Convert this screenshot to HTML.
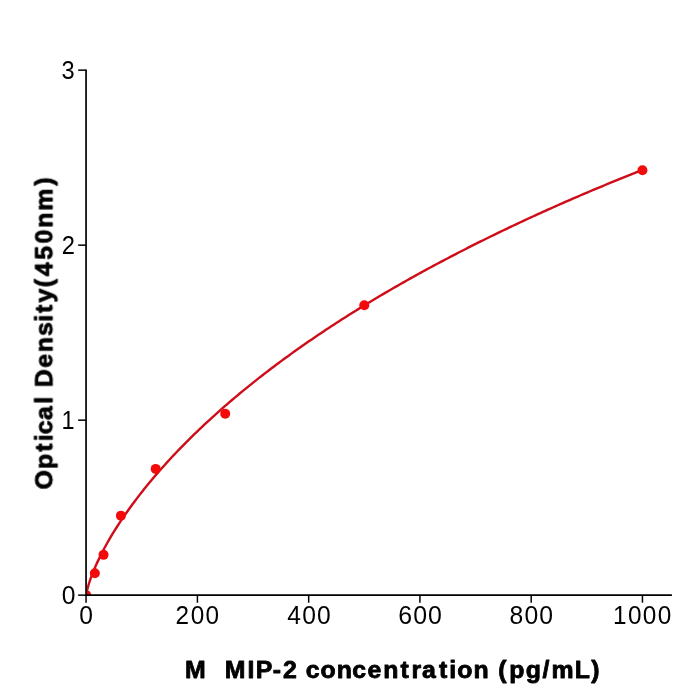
<!DOCTYPE html>
<html><head><meta charset="utf-8"><title>M MIP-2 standard curve</title>
<style>
html,body{margin:0;padding:0;background:#fff;}
body{width:700px;height:700px;overflow:hidden;font-family:"Liberation Sans",sans-serif;}
svg{display:block;}
</style></head><body>
<svg width="700" height="700" viewBox="0 0 700 700">
<rect width="700" height="700" fill="#ffffff"/>
<defs><clipPath id="ax"><rect x="86.05" y="70.15" width="585.85" height="525.00"/></clipPath></defs>
<circle cx="86.15" cy="595.15" r="5.00" fill="#f30b0b" clip-path="url(#ax)"/>
<path d="M86.15 596.08 L86.53 593.15 L86.92 591.21 L87.30 589.54 L87.68 588.02 L88.07 586.60 L88.45 585.26 L88.84 583.98 L89.22 582.75 L89.60 581.56 L89.99 580.41 L90.37 579.29 L90.75 578.20 L91.14 577.14 L91.52 576.10 L91.90 575.08 L92.29 574.08 L92.67 573.10 L93.06 572.13 L93.44 571.18 L93.82 570.25 L94.21 569.33 L94.59 568.42 L94.97 567.52 L95.36 566.64 L95.74 565.76 L96.13 564.90 L96.51 564.05 L96.89 563.20 L97.28 562.37 L99.77 557.15 L102.25 552.21 L104.74 547.51 L107.23 543.01 L109.72 538.67 L112.21 534.48 L114.70 530.43 L117.19 526.49 L119.68 522.65 L122.17 518.91 L124.66 515.26 L127.15 511.69 L129.64 508.20 L132.13 504.78 L134.62 501.42 L137.11 498.13 L139.60 494.89 L142.08 491.71 L144.57 488.59 L147.06 485.51 L149.55 482.48 L152.04 479.49 L154.53 476.55 L157.02 473.65 L159.51 470.79 L162.00 467.97 L164.49 465.18 L166.98 462.43 L169.47 459.72 L171.96 457.03 L174.45 454.38 L176.94 451.76 L179.43 449.17 L181.91 446.60 L184.40 444.07 L186.89 441.56 L189.38 439.08 L191.87 436.62 L194.36 434.19 L196.85 431.78 L199.34 429.40 L201.83 427.03 L204.32 424.69 L206.81 422.38 L209.30 420.08 L211.79 417.80 L214.28 415.55 L216.77 413.31 L219.26 411.09 L221.74 408.89 L224.23 406.71 L226.72 404.55 L229.21 402.41 L231.70 400.28 L234.19 398.17 L236.68 396.07 L239.17 394.00 L241.66 391.93 L244.15 389.89 L246.64 387.86 L249.13 385.84 L251.62 383.84 L254.11 381.85 L256.60 379.88 L259.09 377.92 L261.58 375.98 L264.06 374.05 L266.55 372.13 L269.04 370.22 L271.53 368.33 L274.02 366.45 L276.51 364.58 L279.00 362.73 L281.49 360.89 L283.98 359.05 L286.47 357.24 L288.96 355.43 L291.45 353.63 L293.94 351.85 L296.43 350.07 L298.92 348.31 L301.41 346.55 L303.89 344.81 L306.38 343.08 L308.87 341.36 L311.36 339.65 L313.85 337.94 L316.34 336.25 L318.83 334.57 L321.32 332.90 L323.81 331.23 L326.30 329.58 L328.79 327.93 L331.28 326.30 L333.77 324.67 L336.26 323.05 L338.75 321.44 L341.24 319.84 L343.72 318.25 L346.21 316.67 L348.70 315.09 L351.19 313.52 L353.68 311.96 L356.17 310.41 L358.66 308.87 L361.15 307.34 L363.64 305.81 L366.13 304.29 L368.62 302.78 L371.11 301.27 L373.60 299.77 L376.09 298.28 L378.58 296.80 L381.07 295.32 L383.55 293.86 L386.04 292.40 L388.53 290.94 L391.02 289.49 L393.51 288.05 L396.00 286.62 L398.49 285.19 L400.98 283.77 L403.47 282.36 L405.96 280.95 L408.45 279.55 L410.94 278.15 L413.43 276.76 L415.92 275.38 L418.41 274.00 L420.90 272.63 L423.38 271.27 L425.87 269.91 L428.36 268.56 L430.85 267.21 L433.34 265.87 L435.83 264.54 L438.32 263.21 L440.81 261.88 L443.30 260.57 L445.79 259.25 L448.28 257.95 L450.77 256.65 L453.26 255.35 L455.75 254.06 L458.24 252.78 L460.73 251.50 L463.21 250.22 L465.70 248.95 L468.19 247.69 L470.68 246.43 L473.17 245.17 L475.66 243.92 L478.15 242.68 L480.64 241.44 L483.13 240.21 L485.62 238.98 L488.11 237.75 L490.60 236.53 L493.09 235.32 L495.58 234.11 L498.07 232.90 L500.56 231.70 L503.04 230.50 L505.53 229.31 L508.02 228.12 L510.51 226.94 L513.00 225.76 L515.49 224.59 L517.98 223.42 L520.47 222.25 L522.96 221.09 L525.45 219.93 L527.94 218.78 L530.43 217.63 L532.92 216.49 L535.41 215.35 L537.90 214.21 L540.39 213.08 L542.87 211.95 L545.36 210.83 L547.85 209.71 L550.34 208.59 L552.83 207.48 L555.32 206.37 L557.81 205.26 L560.30 204.16 L562.79 203.07 L565.28 201.97 L567.77 200.89 L570.26 199.80 L572.75 198.72 L575.24 197.64 L577.73 196.57 L580.22 195.50 L582.70 194.43 L585.19 193.37 L587.68 192.31 L590.17 191.25 L592.66 190.20 L595.15 189.15 L597.64 188.10 L600.13 187.06 L602.62 186.02 L605.11 184.99 L607.60 183.95 L610.09 182.92 L612.58 181.90 L615.07 180.88 L617.56 179.86 L620.05 178.84 L622.53 177.83 L625.02 176.82 L627.51 175.82 L630.00 174.81 L632.49 173.81 L634.98 172.82 L637.47 171.82 L639.96 170.83 L642.45 169.85" fill="none" stroke="#cf0d18" stroke-width="2.40" stroke-linejoin="round" stroke-linecap="butt" clip-path="url(#ax)"/>
<circle cx="94.84" cy="573.30" r="5.00" fill="#f30b0b"/>
<circle cx="103.53" cy="554.86" r="5.00" fill="#f30b0b"/>
<circle cx="120.92" cy="515.66" r="5.00" fill="#f30b0b"/>
<circle cx="155.69" cy="468.90" r="5.00" fill="#f30b0b"/>
<circle cx="225.23" cy="413.80" r="5.00" fill="#f30b0b"/>
<circle cx="364.30" cy="305.20" r="5.00" fill="#f30b0b"/>
<circle cx="642.45" cy="170.20" r="5.00" fill="#f30b0b"/>
<g stroke="#000" fill="none">
<path stroke-width="1.70" d="M86.05 69.40 V595.15 H671.90"/>
<path stroke-width="1.50" d="M86.05 595.15 H78.15"/>
<path stroke-width="1.50" d="M86.05 420.15 H78.15"/>
<path stroke-width="1.50" d="M86.05 245.15 H78.15"/>
<path stroke-width="1.50" d="M86.05 70.15 H78.15"/>
<path stroke-width="1.50" d="M86.05 595.15 V602.70"/>
<path stroke-width="1.50" d="M197.41 595.15 V602.70"/>
<path stroke-width="1.50" d="M308.67 595.15 V602.70"/>
<path stroke-width="1.50" d="M419.93 595.15 V602.70"/>
<path stroke-width="1.50" d="M531.19 595.15 V602.70"/>
<path stroke-width="1.50" d="M642.45 595.15 V602.70"/>
</g>
<g font-family="'Liberation Sans', sans-serif" font-size="25.2" fill="#000" stroke="#000" stroke-width="0" stroke-linejoin="round" opacity="0.999">
<text transform="translate(61.19 603.9) scale(0.9767 1)" x="0.59">0</text>
<text transform="translate(60.7 428.9) scale(0.9329 1)" x="0.83">1</text>
<text transform="translate(61.28 253.9) scale(0.9415 1)" x="0.55">2</text>
<text transform="translate(60.61 78.9) scale(0.9380 1)" x="0.94">3</text>
<text transform="translate(78.68 623.7) scale(0.9767 1)" x="0.59">0</text>
<text transform="translate(175.23 623.7) scale(0.9654 1)" x="0.36 16.09 31.49">200</text>
<text transform="translate(286.78 623.7) scale(0.9768 1)" x="0.59 15.82 31.04">400</text>
<text transform="translate(397.79 623.7) scale(0.9879 1)" x="0.51 15.56 30.61">600</text>
<text transform="translate(509.07 623.7) scale(0.9802 1)" x="0.56 15.74 30.91">800</text>
<text transform="translate(612.41 623.7) scale(0.9666 1)" x="0.54 16.06 31.44 46.83">1000</text>
</g>
<g font-family="'Liberation Sans', sans-serif" font-weight="bold" font-size="23.8" fill="#000" stroke="#000" stroke-width="0.8" stroke-linejoin="round" opacity="0.999" style="white-space:pre">
<text transform="translate(183.86 677.6) scale(1.0443 1)" x="1.21 22.27 30.07 39.07 60.98 68.9 85.2 94.94 109.37 116.79 130.85 146.52 161.37 175.86 190.91 207.41 218.02 227.98 244.25 254.22 261.76 277.44 292.67 301.09 311.56 327.32 343.51 351.97 374.38 390.16" xml:space="preserve">M  MIP-2 concentration (pg/mL)</text>
<text transform="translate(52.3 489.66) rotate(-90) scale(1.0420 1)" x="0.27 19.96 36.41 46.4 53.18 66.95 82.52 89.66 98.32 116.95 132.03 147.44 161.17 169.6 179.63 194.3 204.96 220.75 236.32 251.46 267.8 291.75">Optical Density(450nm)</text>
</g>
</svg>
</body></html>
